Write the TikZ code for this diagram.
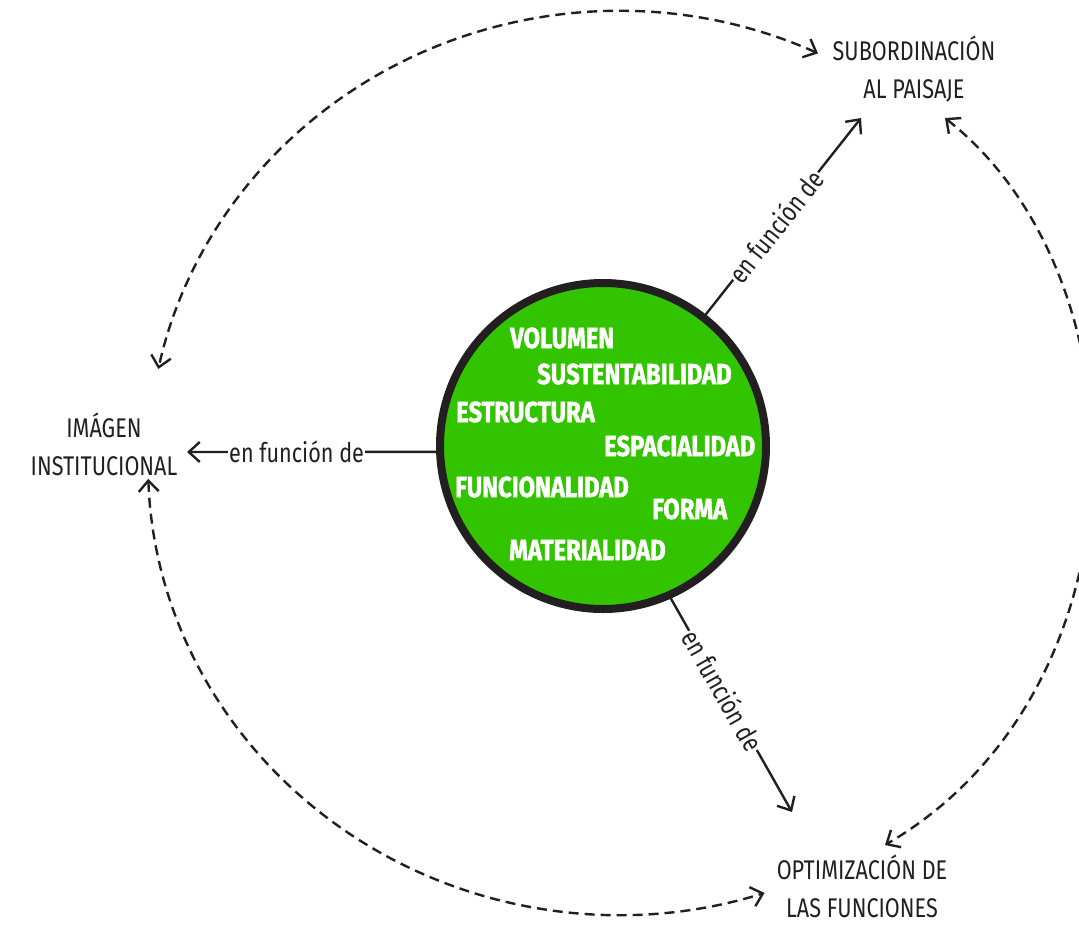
\documentclass[tikz,border=0pt]{standalone}
\usepackage{fontspec}
\newfontfamily\lblfont[FakeStretch=0.8]{Fira Sans}
\newfontfamily\boldfont[FakeStretch=0.82,FakeBold=1.5]{Fira Sans}
\usetikzlibrary{arrows.meta}
\definecolor{ink}{HTML}{231F20}
\definecolor{ballgreen}{HTML}{33C400}
\begin{document}
\begin{tikzpicture}[x=1pt,y=-1pt,
  lbl/.style={font=\lblfont\fontsize{27}{38}\selectfont, text=ink, align=center, inner sep=0pt},
  word/.style={font=\boldfont\bfseries\fontsize{29}{29}\selectfont, text=white, anchor=west, inner sep=0pt},
  conn/.style={draw=ink, line width=2.4pt, -{Straight Barb[length=11pt,width=20pt]}},
  rel/.style={draw=ink, line width=2.4pt, dash pattern=on 10pt off 6pt, {Straight Barb[length=11pt,width=20pt]}-{Straight Barb[length=11pt,width=20pt]}},
  conlabel/.style={font=\lblfont\fontsize{27}{30}\selectfont, text=ink, fill=white, inner sep=1pt}
]
\useasboundingbox (0,0) rectangle (1079,927);
\clip (0,0) rectangle (1079,927);

% central circle
\node[circle, draw=ink, line width=8pt, fill=ballgreen, minimum size=326pt, inner sep=0pt] (c) at (603,446) {};

% words inside the circle
\node[word] (w1) at (510,338) {VOLUMEN};
\node[word] (w2) at (537,374) {SUSTENTABILIDAD};
\node[word] (w3) at (456,412) {ESTRUCTURA};
\node[word] (w4) at (604,446) {ESPACIALIDAD};
\node[word] (w5) at (455,487) {FUNCIONALIDAD};
\node[word] (w6) at (652,509) {FORMA};
\node[word] (w7) at (509,550) {MATERIALIDAD};

% outer labels
\node[lbl] (sub) at (914,69) {SUBORDINACIÓN\\AL PAISAJE};
\node[lbl] (img) at (104,444) {IMÁGEN\\INSTITUCIONAL};
\node[lbl] (opt) at (862,886) {OPTIMIZACIÓN DE\\LAS FUNCIONES};

% arrow end points
\coordinate (tSub) at (861,118);
\coordinate (tOpt) at (792,812);
\coordinate (tImg) at (187,452);
\coordinate (subL) at (818.05,53.35);
\coordinate (subR) at (945,118);
\coordinate (optT) at (885,845);
\coordinate (imgB) at (148.3,478.8);

% solid connectors
\draw[conn] (c.52) -- node[conlabel, sloped, pos=0.45] {en función de} (tSub);
\draw[conn] (c.-66) -- node[conlabel, sloped, pos=0.43] {en función de} (tOpt);
\draw[conn] (c.182) -- node[conlabel, pos=0.56] {en función de} (tImg);

% dashed relations
\draw[rel] (subL) arc[start angle=65, end angle=168, x radius=471pt, y radius=452pt];
\draw[rel] (subR) .. controls (1150,280) and (1150,690) .. (optT);
\draw[rel] (imgB) arc[start angle=182, end angle=288, x radius=471pt, y radius=452pt];
\end{tikzpicture}
\end{document}
